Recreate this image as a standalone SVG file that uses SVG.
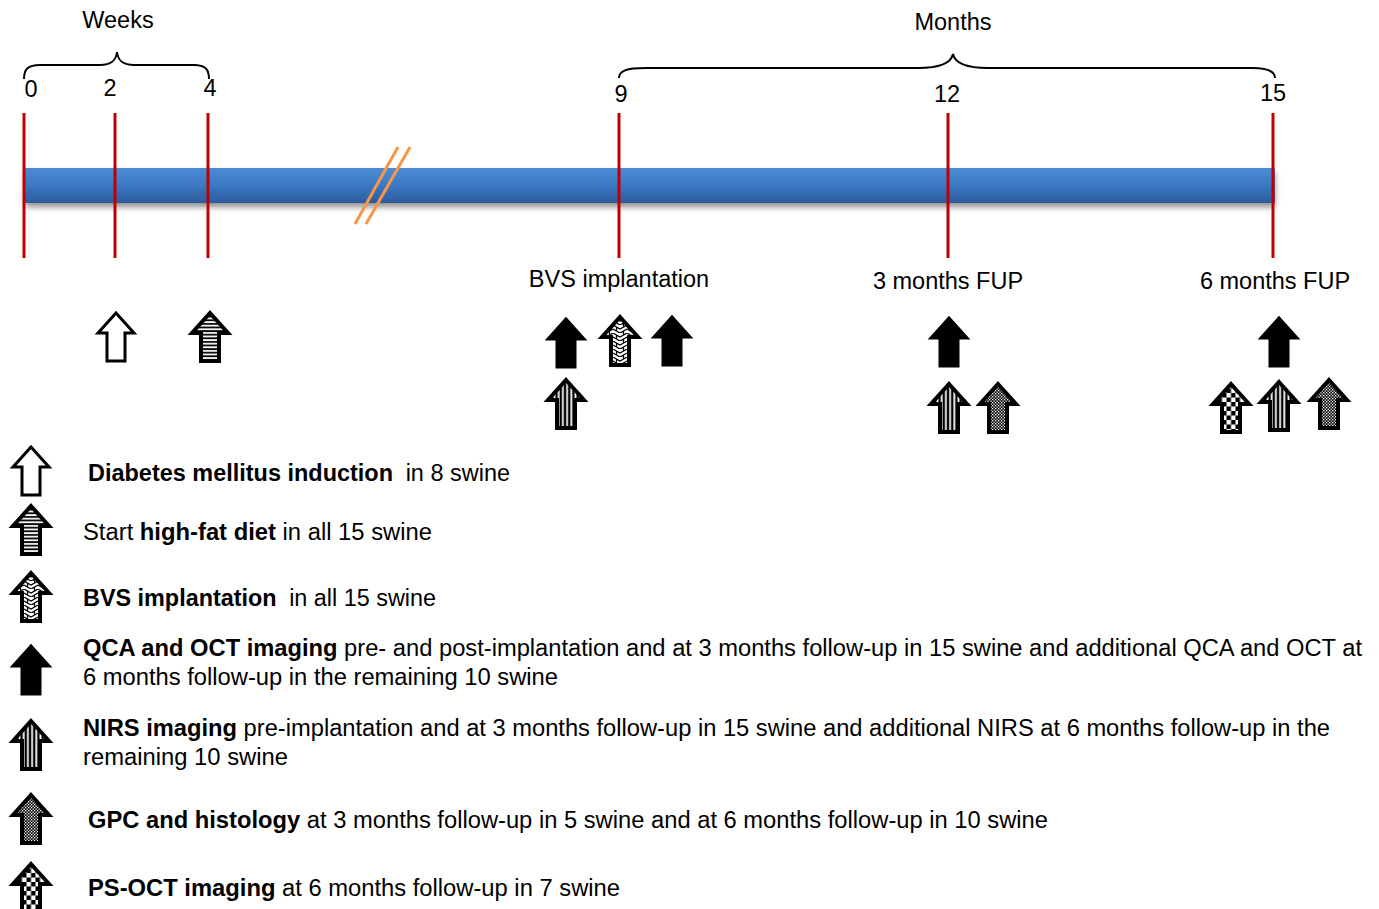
<svg xmlns="http://www.w3.org/2000/svg" width="1379" height="909" viewBox="0 0 1379 909">
<style>
  text { font-family: "Liberation Sans", Arial, sans-serif; fill: #000; }
  .lbl { font-size: 23.5px; }
  .leg { font-size: 23px; }
  .b { font-weight: bold; }
  .tick { stroke: #c00000; stroke-width: 3; }
  .brace { fill: none; stroke: #000; stroke-width: 2; }
  .slash { stroke: #f79646; stroke-width: 3; }
  .arr { stroke: #000; stroke-width: 3; stroke-linejoin: miter; }
  .pat { stroke-width: 4; }
</style>
<defs>
  <path id="a" d="M0,0 L18,20 L9,20 L9,48 L-9,48 L-9,20 L-18,20 Z"/>
  <linearGradient id="bar" x1="0" y1="0" x2="0" y2="1">
    <stop offset="0" stop-color="#4d8cd4"/>
    <stop offset="0.5" stop-color="#3b77c2"/>
    <stop offset="1" stop-color="#2d5c9c"/>
  </linearGradient>
  <filter id="sh" x="-5%" y="-50%" width="110%" height="220%">
    <feGaussianBlur in="SourceAlpha" stdDeviation="3"/>
    <feOffset dy="4" result="o"/>
    <feComponentTransfer><feFuncA type="linear" slope="0.45"/></feComponentTransfer>
    <feMerge><feMergeNode/><feMergeNode in="SourceGraphic"/></feMerge>
  </filter>
  <pattern id="hstr" patternUnits="userSpaceOnUse" width="6" height="3.6">
    <rect width="6" height="3.6" fill="#000"/>
    <rect y="1" width="6" height="1.8" fill="#fff"/>
  </pattern>
  <pattern id="vstr" patternUnits="userSpaceOnUse" width="4.2" height="6" x="-1">
    <rect width="4.2" height="6" fill="#000"/>
    <rect x="1.2" width="1.8" height="6" fill="#fff"/>
  </pattern>
  <pattern id="dots" patternUnits="userSpaceOnUse" width="3" height="3">
    <rect width="3" height="3" fill="#000"/>
    <rect width="1.3" height="1.3" fill="#fff"/>
    <rect x="1.5" y="1.5" width="1.3" height="1.3" fill="#fff"/>
  </pattern>
  <pattern id="chk" patternUnits="userSpaceOnUse" width="9" height="9" x="-4.5">
    <rect width="9" height="9" fill="#000"/>
    <rect width="4.5" height="4.5" fill="#fff"/>
    <rect x="4.5" y="4.5" width="4.5" height="4.5" fill="#fff"/>
  </pattern>
  <pattern id="weave" patternUnits="userSpaceOnUse" width="14" height="8" x="-7">
    <rect width="14" height="8" fill="#fff"/>
    <path d="M0,0 L7,4 L14,0 M0,4 L7,8 L14,4 M3.5,2 L3.5,6 M10.5,6 L10.5,10 M10.5,-2 L10.5,2" fill="none" stroke="#000" stroke-width="1.2"/>
  </pattern>
</defs>

<g id="timeline">
  <rect x="25" y="168" width="1250" height="35" fill="url(#bar)" filter="url(#sh)"/>
  <line class="tick" x1="24" y1="113" x2="24" y2="258"/>
  <line class="tick" x1="115" y1="113" x2="115" y2="258"/>
  <line class="tick" x1="208" y1="113" x2="208" y2="258"/>
  <line class="tick" x1="619" y1="113" x2="619" y2="258"/>
  <line class="tick" x1="948" y1="113" x2="948" y2="258"/>
  <line class="tick" x1="1273" y1="113" x2="1273" y2="258"/>
  <line class="slash" x1="355" y1="224" x2="398" y2="147"/>
  <line class="slash" x1="366" y1="224" x2="410" y2="147"/>
</g>

<g id="scale-labels">
  <text class="lbl" x="118" y="28" text-anchor="middle">Weeks</text>
  <text class="lbl" x="953" y="30" text-anchor="middle">Months</text>
  <path class="brace" d="M24,79 C24,69 28,65 40,65 L100,65 C111,65 116,61 117,52 C118,61 123,65 134,65 L194,65 C205,65 209,69 209,79"/>
  <path class="brace" d="M619,78 C619,71 626,68 646,68 L918,68 C940,68 951,63 953,54 C955,63 966,68 988,68 L1252,68 C1268,68 1275,72 1275,78"/>
  <text class="lbl" x="31" y="97" text-anchor="middle">0</text>
  <text class="lbl" x="110" y="96" text-anchor="middle">2</text>
  <text class="lbl" x="210" y="96" text-anchor="middle">4</text>
  <text class="lbl" x="621" y="102" text-anchor="middle">9</text>
  <text class="lbl" x="947" y="102" text-anchor="middle">12</text>
  <text class="lbl" x="1273" y="101" text-anchor="middle">15</text>
  <text class="lbl" x="619" y="287" text-anchor="middle">BVS implantation</text>
  <text class="lbl" x="948" y="289" text-anchor="middle">3 months FUP</text>
  <text class="lbl" x="1275" y="289" text-anchor="middle">6 months FUP</text>
</g>

<g id="timeline-arrows">
  <use href="#a" class="arr" fill="#fff" transform="translate(116,313)"/>
  <use href="#a" class="arr pat" fill="url(#hstr)" transform="translate(210,313)"/>
  <use href="#a" class="arr" fill="#000" transform="translate(566,319)"/>
  <use href="#a" class="arr pat" fill="url(#weave)" transform="translate(620,317)"/>
  <use href="#a" class="arr" fill="#000" transform="translate(672,317)"/>
  <use href="#a" class="arr pat" fill="url(#vstr)" transform="translate(566,380)"/>
  <use href="#a" class="arr" fill="#000" transform="translate(949,318)"/>
  <use href="#a" class="arr pat" fill="url(#vstr)" transform="translate(949,384)"/>
  <use href="#a" class="arr pat" fill="url(#dots)" transform="translate(998,384)"/>
  <use href="#a" class="arr" fill="#000" transform="translate(1279,318)"/>
  <use href="#a" class="arr pat" fill="url(#chk)" transform="translate(1231,384)"/>
  <use href="#a" class="arr pat" fill="url(#vstr)" transform="translate(1279,382)"/>
  <use href="#a" class="arr pat" fill="url(#dots)" transform="translate(1329,380)"/>
</g>

<g id="legend-dm">
  <use href="#a" class="arr" fill="#fff" transform="translate(31,447)"/>
  <text class="leg" x="88" y="481" textLength="422" lengthAdjust="spacingAndGlyphs"><tspan class="b">Diabetes mellitus induction</tspan><tspan dx="6"> in 8 swine</tspan></text>
</g>
<g id="legend-hfd">
  <use href="#a" class="arr pat" fill="url(#hstr)" transform="translate(31,506)"/>
  <text class="leg" x="83" y="540" textLength="349" lengthAdjust="spacingAndGlyphs">Start <tspan class="b">high-fat diet</tspan> in all 15 swine</text>
</g>
<g id="legend-bvs">
  <use href="#a" class="arr pat" fill="url(#weave)" transform="translate(31,573)"/>
  <text class="leg" x="83" y="606" textLength="353" lengthAdjust="spacingAndGlyphs"><tspan class="b">BVS implantation</tspan><tspan dx="6"> in all 15 swine</tspan></text>
</g>
<g id="legend-qca">
  <use href="#a" class="arr" fill="#000" transform="translate(31,646)"/>
  <text class="leg" x="83" y="656" textLength="1279" lengthAdjust="spacingAndGlyphs"><tspan class="b">QCA and OCT imaging</tspan> pre- and post-implantation and at 3 months follow-up in 15 swine and additional QCA and OCT at</text>
  <text class="leg" x="83" y="685" textLength="475" lengthAdjust="spacingAndGlyphs">6 months follow-up in the remaining 10 swine</text>
</g>
<g id="legend-nirs">
  <use href="#a" class="arr pat" fill="url(#vstr)" transform="translate(31,721)"/>
  <text class="leg" x="83" y="736" textLength="1247" lengthAdjust="spacingAndGlyphs"><tspan class="b">NIRS imaging</tspan> pre-implantation and at 3 months follow-up in 15 swine and additional NIRS at 6 months follow-up in the</text>
  <text class="leg" x="83" y="765" textLength="205" lengthAdjust="spacingAndGlyphs">remaining 10 swine</text>
</g>
<g id="legend-gpc">
  <use href="#a" class="arr pat" fill="url(#dots)" transform="translate(31,795)"/>
  <text class="leg" x="88" y="828" textLength="960" lengthAdjust="spacingAndGlyphs"><tspan class="b">GPC and histology</tspan> at 3 months follow-up in 5 swine and at 6 months follow-up in 10 swine</text>
</g>
<g id="legend-psoct">
  <use href="#a" class="arr pat" fill="url(#chk)" transform="translate(31,864)"/>
  <text class="leg" x="88" y="896" textLength="532" lengthAdjust="spacingAndGlyphs"><tspan class="b">PS-OCT imaging</tspan> at 6 months follow-up in 7 swine</text>
</g>
</svg>
